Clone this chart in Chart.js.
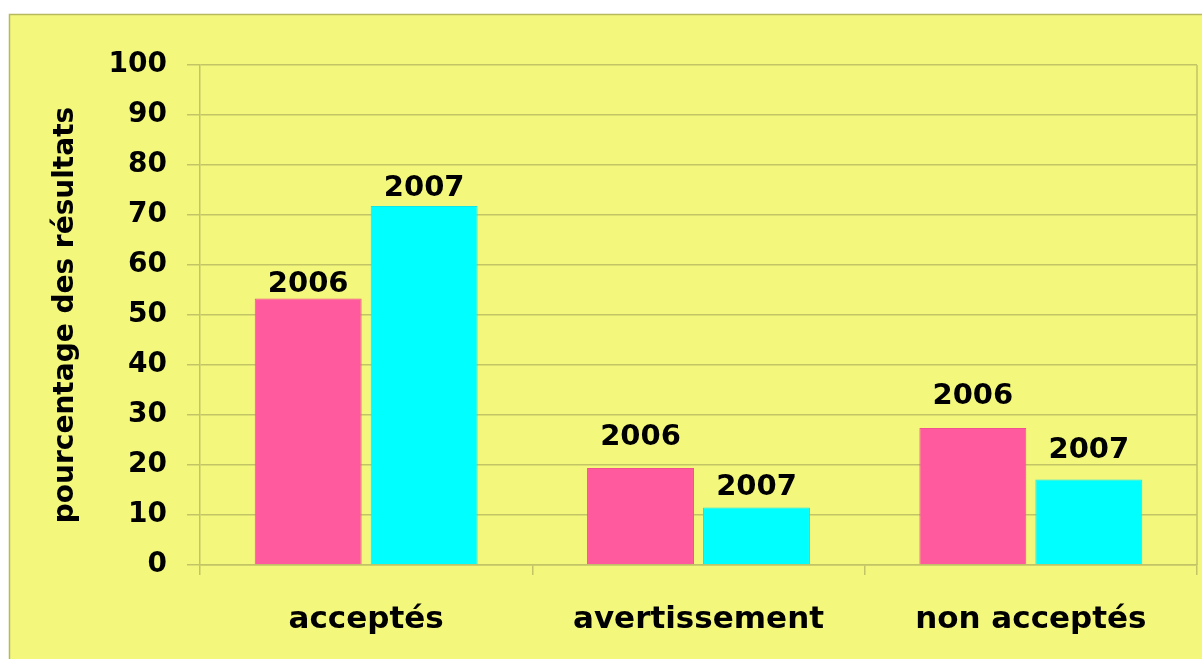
<!DOCTYPE html>
<html>
<head>
<meta charset="utf-8">
<script src="https://cdn.jsdelivr.net/npm/chart.js@4/dist/chart.umd.min.js"></script>
<style>
  html, body { margin: 0; padding: 0; background: #ffffff; }
  #wrap { width: 1202px; height: 659px; }
</style>
</head>
<body>
<div id="wrap"><canvas id="resultats"></canvas></div>
<script>
const categories = ["acceptés", "avertissement", "non acceptés"];
const seriesNames = ["2006", "2007"];
const values2006 = [53.3, 19.4, 27.4];
const values2007 = [71.8, 11.5, 17.1];
const yTicks = [0, 10, 20, 30, 40, 50, 60, 70, 80, 90, 100];

// how far each year label sits above its bar (px)
const labelLift = [[7, 23, 24], [10, 13, 22]];

const FONT = "'DejaVu Sans', sans-serif";
const paper = "#f3f87d";
const lineColor = "#c2c466";

// yellow sheet with an olive edge on top / left
const sheet = {
  id: "sheet",
  beforeDraw(chart) {
    const c = chart.ctx;
    c.save();
    c.fillStyle = "#ffffff";
    c.fillRect(0, 0, chart.width, chart.height);
    c.fillStyle = paper;
    c.fillRect(9, 14, chart.width, chart.height);
    c.strokeStyle = "#b8b85e";
    c.lineWidth = 1.5;
    c.beginPath();
    c.moveTo(9.5, chart.height);
    c.lineTo(9.5, 14.5);
    c.lineTo(chart.width, 14.5);
    c.stroke();
    c.restore();
  },
  beforeDatasetsDraw(chart) {
    const a = chart.chartArea;
    const c = chart.ctx;
    c.save();
    c.strokeStyle = lineColor;
    c.lineWidth = 1.5;
    c.beginPath();
    c.moveTo(a.right, a.top);
    c.lineTo(a.right, a.bottom);
    c.stroke();
    c.restore();
  }
};

// year written above each bar
const yearLabels = {
  id: "yearLabels",
  afterDatasetsDraw(chart) {
    const c = chart.ctx;
    c.save();
    c.font = "bold 29px " + FONT;
    c.fillStyle = "#000000";
    c.textAlign = "center";
    c.textBaseline = "alphabetic";
    chart.data.datasets.forEach((ds, i) => {
      chart.getDatasetMeta(i).data.forEach((bar, j) => {
        c.fillText(ds.label, bar.x, bar.y - labelLift[i][j]);
      });
    });
    c.restore();
  }
};

const ctx = document.getElementById("resultats").getContext("2d");
new Chart(ctx, {
  type: "bar",
  data: {
    labels: categories,
    datasets: [
      {
        label: seriesNames[0],
        data: values2006,
        backgroundColor: "#ff5a9d",
        borderColor: "#f0528f",
        borderWidth: 1,
      },
      {
        label: seriesNames[1],
        data: values2007,
        backgroundColor: "#00ffff",
        borderColor: "#10e8e8",
        borderWidth: 1,
      },
    ],
  },
  options: {
    responsive: true,
    maintainAspectRatio: false,
    animation: false,
    categoryPercentage: 0.698,
    barPercentage: 0.922,
    layout: { padding: { top: 65, right: 5, left: 0, bottom: 0 } },
    plugins: {
      legend: { display: false },
      tooltip: { enabled: false },
    },
    scales: {
      x: {
        afterFit(scale) { scale.height = 94; },
        grid: {
          drawOnChartArea: false,
          drawTicks: true,
          tickLength: 10,
          color: lineColor,
          lineWidth: 1.5,
        },
        border: { color: lineColor, width: 1.5 },
        ticks: {
          color: "#000000",
          font: { family: FONT, size: 31, weight: "bold" },
          padding: 26,
          maxRotation: 0,
        },
      },
      y: {
        min: 0,
        max: 100,
        afterFit(scale) { scale.width = 200; },
        afterBuildTicks(scale) {
          scale.ticks = yTicks.map((v) => ({ value: v }));
        },
        grid: {
          color: lineColor,
          lineWidth: 1.5,
          tickLength: 13,
        },
        border: { color: lineColor, width: 1.5 },
        ticks: {
          color: "#000000",
          font: { family: FONT, size: 28, weight: "bold" },
          padding: 20,
        },
        title: {
          display: true,
          text: "pourcentage des résultats",
          color: "#000000",
          font: { family: FONT, size: 28, weight: "bold" },
          padding: { top: 49, bottom: 0 },
        },
      },
    },
  },
  plugins: [sheet, yearLabels],
});
</script>
</body>
</html>
